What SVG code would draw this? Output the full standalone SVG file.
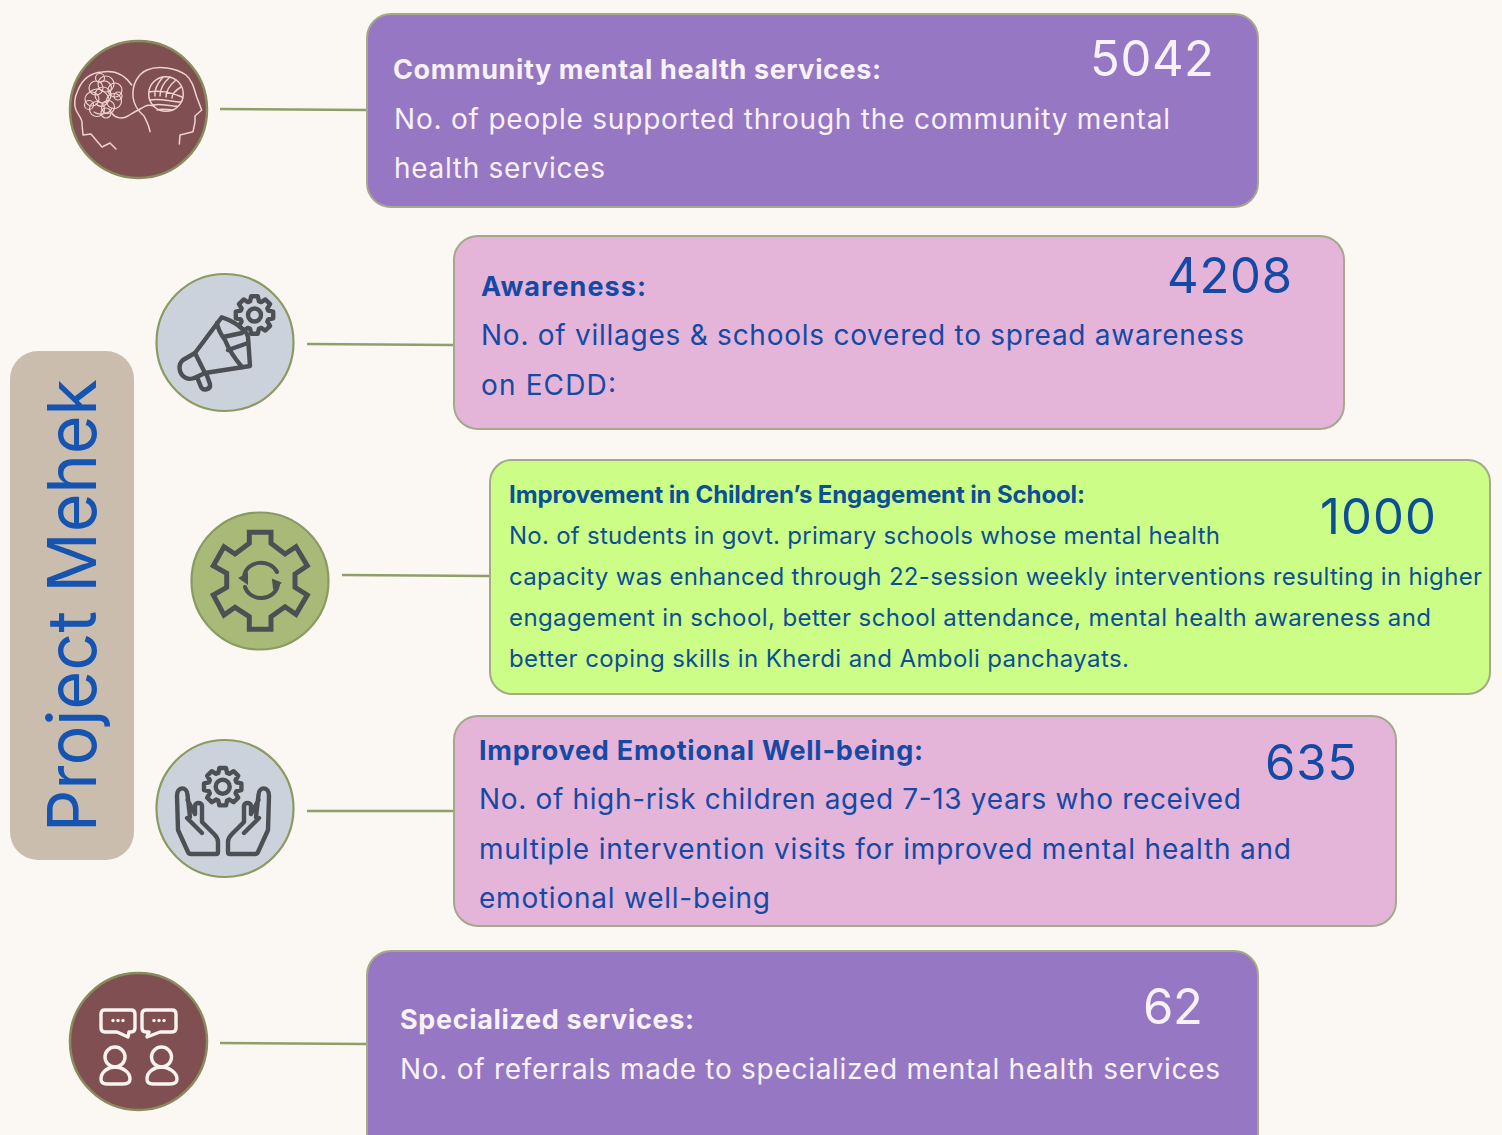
<svg xmlns="http://www.w3.org/2000/svg" width="1502" height="1135" viewBox="0 0 1502 1135">
<style>
text{font-family:Inter,"Liberation Sans",sans-serif}
.card{stroke:#a3a98a;stroke-width:2}
.purple{fill:#9677c4}.pink{fill:#e4b5d8}.lime{fill:#ccfd86}
.cw{fill:#f8f2f8}.cb{fill:#1549a6}.cg{fill:#0c4f96}
.t{font-size:28px}.h{font-size:27px;font-weight:700}
.t2{font-size:24px}.h2{font-size:24px;font-weight:700}
.n{font-size:49px}
.lnk{stroke:#8f9f6a;stroke-width:2.500;fill:none}
.ring{stroke:#8a9a62;stroke-width:2.200}
.ico{fill:none;stroke:#4c5054;stroke-width:4.400;stroke-linejoin:round;stroke-linecap:round}
.icw{fill:none;stroke:#fbf3f0;stroke-width:3.400;stroke-linejoin:round;stroke-linecap:round}
.thin{fill:none;stroke:#f0d2d0;stroke-width:1.500;stroke-linecap:round;stroke-linejoin:round}
</style>
<defs>
<path id="gear" d="M-3.300-18.700H3.300L4.400-13.800 6.650-12.870 10.900-15.560 15.560-10.900 12.870-6.650 13.800-4.400 18.700-3.300V3.300L13.800 4.400 12.870 6.650 15.560 10.900 10.900 15.560 6.650 12.870 4.400 13.800 3.300 18.700H-3.300L-4.400 13.800-6.650 12.870-10.900 15.560-15.560 10.900-12.870 6.650-13.800 4.400-18.700 3.300V-3.300L-13.800-4.400-12.870-6.650-15.560-10.900-10.900-15.560-6.650-12.870-4.400-13.800Z"/>
<g id="hand">
<path d="M178 830L177 796C177 786 187 786 187.500 795L190 817M178 830L188 852Q189 854 191 854H216Q218 854 218 852V842Q218 838 214 834L202 822V806C202 802 195 802 195 806V814M187 818L202 833M187.500 800L195 814"/>
</g>
</defs>
<rect width="1502" height="1135" fill="#fbf8f4"/>
<g id="connectors">
<path class="lnk" d="M220 109L367 110"/>
<path class="lnk" d="M307 344L454 345"/>
<path class="lnk" d="M342 575L489 576"/>
<path class="lnk" d="M307 811L454 811"/>
<path class="lnk" d="M220 1043L367 1044"/>
</g>
<g id="title">
<rect x="10" y="351" width="124" height="509" rx="28" fill="#cbbdae"/>
<text transform="translate(96 832) rotate(-90)" font-size="68" fill="#1554b0" textLength="453" lengthAdjust="spacingAndGlyphs">Project Mehek</text>
</g>
<g id="node-community">
<circle class="ring" cx="138.500" cy="109.500" r="68.500" fill="#7f4f51" style="stroke-width:2.500;stroke:#8a8a5e"/>
<g class="thin">
<path d="M131.700 85C124 74 113 70 102 72 90 73 82 80 78 90 74 98 74 106 76 110 79 116 83 120 82 124L83 135 91 134 96 140 102 147 110 143 116 149"/>
<path d="M150 131.700C149 125 146 120 144 116 138 111 134 106 133 97 132 84 138 74 147 70 158 65 176 68 186 75 192 80 194 88 196.700 97L201.700 110 195 116 195 122 193 131.700 180 135 179.300 144"/>
<path d="M111.700 113C116 119 123 119 128 116 134 112 138 110 142 108 145 106 148 104 154 106"/>
<circle cx="166" cy="94" r="17.300"/>
<path d="M149 92C158 90 172 92 182 97M150 100C160 98 172 102 181 102M153 105C162 103 170 107 177 106M157 110C162 108 168 110 173 110M163 77C157 84 154 90 155 96M170 77C163 83 160 90 160 96M176 80C170 85 166 90 166 97M181 87C176 90 172 93 172 98"/>
</g>
<g class="thin" style="stroke-width:1.200">
<circle cx="96" cy="88" r="7"/><circle cx="106" cy="84" r="8"/><circle cx="115" cy="90" r="7"/><circle cx="92" cy="99" r="7"/><circle cx="103" cy="95" r="8"/><circle cx="114" cy="101" r="7.500"/><circle cx="97" cy="109" r="7.500"/><circle cx="108" cy="107" r="6.500"/><circle cx="89" cy="105" r="4.500"/><circle cx="100" cy="78" r="4.500"/><circle cx="106" cy="113" r="5"/><circle cx="118" cy="96" r="4"/>
<path d="M90 92C96 86 104 90 108 96 112 102 102 110 96 104M100 82C108 78 114 86 110 92M94 112C100 116 110 114 112 108"/>
</g>
</g>
<g id="card-community">
<rect class="card purple" x="367" y="14" width="891" height="193" rx="24"/>
<text class="h cw" x="393" y="79" textLength="488" lengthAdjust="spacing">Community mental health services:</text>
<text class="t cw" x="394" y="129" textLength="776" lengthAdjust="spacing">No. of people supported through the community mental</text>
<text class="t cw" x="394" y="178" textLength="211" lengthAdjust="spacing">health services</text>
<text class="n cw" x="1090" y="76" textLength="124" lengthAdjust="spacing">5042</text>
</g>
<g id="node-awareness">
<circle class="ring" cx="225" cy="342.500" r="68.500" fill="#cbd2dc"/>
<g class="ico">
<use href="#gear" transform="translate(254.500 315)"/><circle cx="254.500" cy="315" r="6.500"/>
<path d="M221.700 317.300L195 353 205 373 250 366 248 337C247 330 232 320 221.700 317.300Z"/>
<path d="M217 323C218 330 222 336 225 340 229 350 236 360 242 367M223 337L242 333M228 350L248 343"/>
<path d="M195 353L183 360C178 364 178 374 186 378 190 380 193 379 205 373M197 377L201 387C203 391 211 390 210 384L206 373"/>
</g>
</g>
<g id="card-awareness">
<rect class="card pink" x="454" y="236" width="890" height="193" rx="24"/>
<text class="h cb" x="481" y="296" textLength="165" lengthAdjust="spacing">Awareness:</text>
<text class="t cb" x="481" y="345" textLength="763" lengthAdjust="spacing">No. of villages &amp; schools covered to spread awareness</text>
<text class="t cb" x="481" y="395" textLength="135" lengthAdjust="spacing">on ECDD:</text>
<text class="n cb" x="1167" y="293" textLength="125" lengthAdjust="spacing">4208</text>
</g>
<g id="node-engagement">
<circle class="ring" cx="260" cy="581" r="68.500" fill="#a9ba78"/>
<g class="ico" style="stroke-width:5;stroke-linejoin:miter">
<path d="M249.300 532.300H271V543.300L285 554 296 546.700 307.300 565.700 295 574V587.300L307.300 595 296 614.300 285 606.700 271 616.700V629.300H249.300V616.700L235 607.300 224 615 213.300 595 226.700 587.300V573.300L213.300 565.700 224 546.700 235 554 249.300 543.300Z"/>
<path d="M244 577C246 560 270 558 277 572M278 585C274 602 250 602 245 587" style="stroke-width:4"/>
<path d="M240 578L247 574V583ZM280 583L273 580 274 588Z" fill="#4c5054" style="stroke-width:2"/>
</g>
</g>
<g id="card-engagement">
<rect class="card lime" x="490" y="460" width="1000" height="234" rx="22"/>
<text class="h2 cg" x="509" y="502.500" textLength="576" lengthAdjust="spacing">Improvement in Children’s Engagement in School:</text>
<text class="t2 cg" x="509" y="543.500" textLength="711" lengthAdjust="spacing">No. of students in govt. primary schools whose mental health</text>
<text class="t2 cg" x="509" y="584.500" textLength="973" lengthAdjust="spacing">capacity was enhanced through 22-session weekly interventions resulting in higher</text>
<text class="t2 cg" x="509" y="625.500" textLength="922" lengthAdjust="spacing">engagement in school, better school attendance, mental health awareness and</text>
<text class="t2 cg" x="509" y="666.500" textLength="620" lengthAdjust="spacing">better coping skills in Kherdi and Amboli panchayats.</text>
<text class="n cg" x="1320" y="534" textLength="116" lengthAdjust="spacing">1000</text>
</g>
<g id="node-wellbeing">
<circle class="ring" cx="225" cy="808.500" r="68.500" fill="#cbd2dc"/>
<g class="ico">
<use href="#gear" transform="translate(222.700 786.700)"/><circle cx="222.700" cy="786.700" r="7"/>
<use href="#hand"/>
<use href="#hand" transform="matrix(-1 0 0 1 446 0)"/>
</g>
</g>
<g id="card-wellbeing">
<rect class="card pink" x="454" y="716" width="942" height="210" rx="24"/>
<text class="h cb" x="479" y="760" textLength="444" lengthAdjust="spacing">Improved Emotional Well-being:</text>
<text class="t cb" x="479" y="809" textLength="762" lengthAdjust="spacing">No. of high-risk children aged 7-13 years who received</text>
<text class="t cb" x="479" y="858.500" textLength="812" lengthAdjust="spacing">multiple intervention visits for improved mental health and</text>
<text class="t cb" x="479" y="908" textLength="291" lengthAdjust="spacing">emotional well-being</text>
<text class="n cb" x="1265" y="780" textLength="92" lengthAdjust="spacing">635</text>
</g>
<g id="node-specialized">
<circle class="ring" cx="138.500" cy="1041.500" r="68.500" fill="#7f4f51" style="stroke-width:2.500;stroke:#8a8a5e"/>
<g class="icw">
<path d="M104 1010H131C134 1010 135 1012 135 1014V1028C135 1031 133 1032 131 1032H129L128 1037 117 1032H105C102 1032 101 1030 101 1028V1014C101 1012 102 1010 104 1010Z"/>
<path d="M146 1010H172C175 1010 176 1012 176 1014V1028C176 1030 175 1032 172 1032H160L147 1037 149 1032H146C143 1032 142 1030 142 1028V1014C142 1012 143 1010 146 1010Z"/>
<circle cx="115" cy="1057" r="10"/><circle cx="161.500" cy="1057" r="10"/>
<path d="M107 1084H123C128 1084 130 1082 130 1079 130 1072 122 1067 115 1067 108 1067 101 1072 101 1079 101 1082 103 1084 107 1084Z"/>
<path d="M153 1084H170C175 1084 177 1082 177 1079 177 1072 168 1067 161.500 1067 154 1067 147 1072 147 1079 147 1082 149 1084 153 1084Z"/>
</g>
<g fill="#fbf3f0"><circle cx="113" cy="1020.500" r="1.700"/><circle cx="118" cy="1020.500" r="1.700"/><circle cx="123" cy="1020.500" r="1.700"/><circle cx="154" cy="1020.500" r="1.700"/><circle cx="159" cy="1020.500" r="1.700"/><circle cx="164" cy="1020.500" r="1.700"/></g>
</g>
<g id="card-specialized">
<rect class="card purple" x="367" y="951" width="891" height="210" rx="24"/>
<text class="h cw" x="400" y="1029" textLength="294" lengthAdjust="spacing">Specialized services:</text>
<text class="t cw" x="400" y="1078.500" textLength="820" lengthAdjust="spacing">No. of referrals made to specialized mental health services</text>
<text class="n cw" x="1143" y="1024" textLength="60" lengthAdjust="spacing">62</text>
</g>
</svg>
